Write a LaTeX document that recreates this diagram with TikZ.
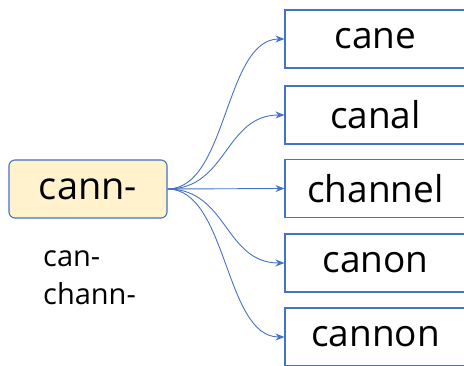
\documentclass[tikz,border=0pt]{standalone}
\usepackage{fontspec}
\setmainfont{Open Sans}
\usepackage{tikz}
\usetikzlibrary{
    arrows.meta,
    positioning
}
\usepackage{xcolor}
\definecolor{wordblue}{HTML}{4472C4}
\definecolor{rootfill}{HTML}{FFF2CC}

\begin{document}
\begin{tikzpicture}[
        x=1pt, y=1pt,
        >={Stealth[length=9pt,width=7pt]},
        root/.style={
            draw=wordblue,
            fill=rootfill,
            line width=1.1pt,
            rounded corners=6pt,
            minimum width=158pt,
            minimum height=58pt,
            inner sep=0pt,
            font=\fontsize{38}{40}\selectfont
        },
        word/.style={
            draw=wordblue,
            line width=1.1pt,
            minimum width=181pt,
            minimum height=58pt,
            inner sep=0pt,
            font=\fontsize{37}{40}\selectfont
        },
        link/.style={
            ->,
            draw=wordblue,
            line width=0.9pt
        }
    ]
        \clip (0,0) rectangle (464,365);
        \node[root] (R) at (88,176) {cann-};
        \node[word] (W1) at (375.5,326) {cane};
        \node[word] (W2) at (375.5,250) {canal};
        \node[word] (W3) at (375.5,176.5) {channel};
        \node[word] (W4) at (375.5,102) {canon};
        \node[word] (W5) at (375.5,28) {cannon};
        \node[align=left, anchor=west, inner sep=0pt,
              font=\fontsize{29}{38}\selectfont] (V) at (43,87) {can-\\chann-};
        \draw[link] (R.east) .. controls +(60,0) and +(-60,0) .. (W1.west);
        \draw[link] (R.east) .. controls +(60,0) and +(-60,0) .. (W2.west);
        \draw[link] (R.east) -- (W3.west);
        \draw[link] (R.east) .. controls +(60,0) and +(-60,0) .. (W4.west);
        \draw[link] (R.east) .. controls +(60,0) and +(-60,0) .. (W5.west);
    \end{tikzpicture}
\end{document}
